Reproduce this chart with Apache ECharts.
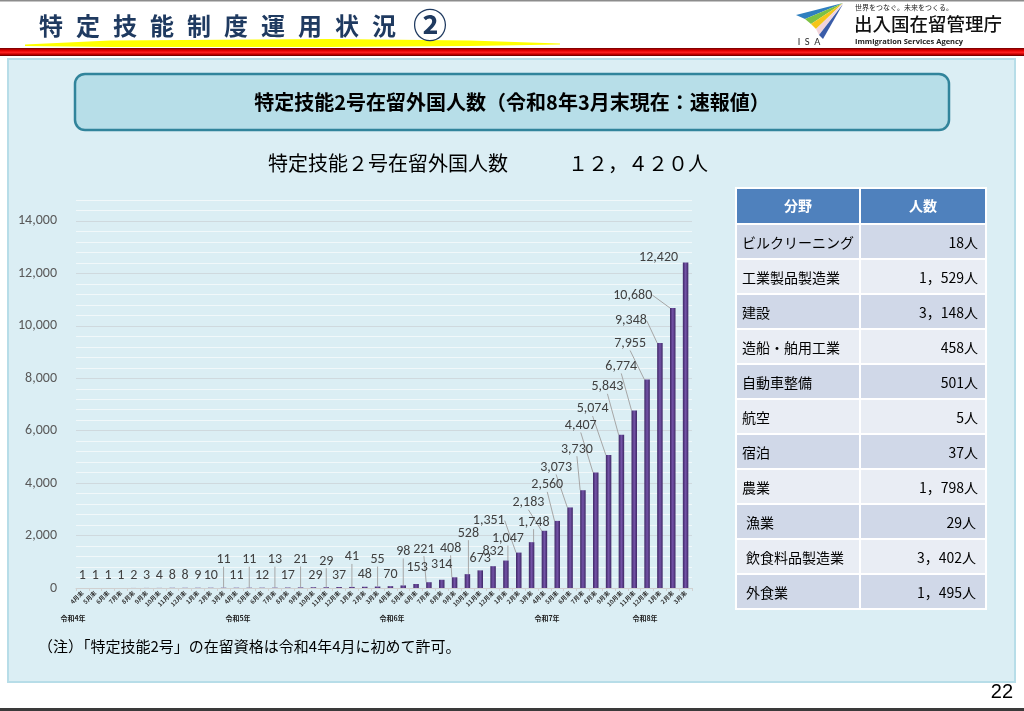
<!DOCTYPE html>
<html>
<head>
<meta charset="utf-8">
<script src="https://cdn.jsdelivr.net/npm/echarts@6/dist/echarts.min.js"></script>
<style>
  html, body { margin: 0; padding: 0; background: #fff; }
  #chart { width: 1024px; height: 711px; }
</style>
</head>
<body>
<div id="chart"></div>
<script>
// 月末ごとの特定技能2号在留外国人数（令和4年4月末〜令和8年3月末）
var monthLabels = [
  '4月末','5月末','6月末','7月末','8月末','9月末','10月末','11月末','12月末',
  '1月末','2月末','3月末','4月末','5月末','6月末','7月末','8月末','9月末','10月末','11月末','12月末',
  '1月末','2月末','3月末','4月末','5月末','6月末','7月末','8月末','9月末','10月末','11月末','12月末',
  '1月末','2月末','3月末','4月末','5月末','6月末','7月末','8月末','9月末','10月末','11月末','12月末',
  '1月末','2月末','3月末'
];
var residents = [
  1, 1, 1, 1, 2, 3, 4, 8, 8,
  9, 10, 11, 11, 11, 12, 13, 17, 21, 29, 29, 37,
  41, 48, 55, 70, 98, 153, 221, 314, 408, 528, 673, 832,
  1047, 1351, 1748, 2183, 2560, 3073, 3730, 4407, 5074, 5843, 6774, 7955,
  9348, 10680, 12420
];
var yearNames = ['令和4年', '令和5年', '令和6年', '令和7年', '令和8年'];
var yTicks = [0, 2000, 4000, 6000, 8000, 10000, 12000, 14000];

// 分野別内訳
var fieldNames = ['ビルクリーニング', '工業製品製造業', '建設', '造船・舶用工業', '自動車整備',
  '航空', '宿泊', '農業', '漁業', '飲食料品製造業', '外食業'];
var fieldCounts = [18, 1529, 3148, 458, 501, 5, 37, 1798, 29, 3402, 1495];

// ラベルのずらし量 [dx, dy, 引き出し線]
var labelNudge = [
  [0,0,0],[0,0,0],[0,0,0],[0,0,0],[0,0,0],[0,0,0],[0,0,0],[0,0,0],[0,0,0],[0,0,0],[0,0,0],
  [0,-16,1],[0,0,0],[0,-16,1],[0,0,0],[0,-16,1],[0,0,0],[0,-16,1],[2,0,0],[0,-14,1],[0,0,0],
  [0,-18,1],[0,0,0],[0,-15,1],[0,0,0],[0,-22,1],[1,-4,0],[-5,-21,1],[0,-3,0],[-4,-17,1],[1,-29,1],
  [0,0,0],[0,-3,0],[2,-10,1],[-30,-20,1],[2,-8,1],[-16,-16,1],[-10,-24,1],[-14,-28,1],[-6,-29,1],
  [-15,-35,1],[-16,-34,1],[-14,-36,1],[-13,-32,1],[-17,-24,1],[-29,-10,1],[-40,-1,1],[-27,7,0]
];
var yearLabelX = [73, 238, 392, 547, 645];

var CJK = '"Noto Sans CJK JP"';
var NUM = 'Carlito, Lato, sans-serif';

function fmt(v) { return v.toLocaleString('en-US'); }
function fmtJa(v) { return fmt(v).replace(/,/g, '，') + '人'; }

function txt(x, y, s, font, fill, align, valign, z) {
  return {
    type: 'text', z: z || 5, silent: true,
    style: {
      text: s, x: x, y: y, font: font, fill: fill || '#000',
      align: align || 'left', verticalAlign: valign || 'middle',
      textAlign: align || 'left', textVerticalAlign: valign || 'middle'
    }
  };
}

var gfx = [];
// ページ枠
gfx.push({ type: 'rect', z: -20, shape: { x: 0, y: 0, width: 1024, height: 1.5 }, style: { fill: '#8c8c8c' } });
gfx.push({ type: 'polygon', z: -20,
  shape: { points: [[25,44.5],[110,40.5],[330,39],[470,40.5],[560,43.5],[560,44.5],[470,46],[330,47],[110,47],[25,46]] },
  style: { fill: '#ffff00' } });
gfx.push({ type: 'rect', z: -20, shape: { x: 0, y: 48, width: 1024, height: 8 },
  style: { fill: new echarts.graphic.LinearGradient(0, 0, 0, 1, [
    { offset: 0, color: '#6e0000' }, { offset: 0.3, color: '#e00000' }, { offset: 0.55, color: '#ff2020' },
    { offset: 0.8, color: '#c00000' }, { offset: 1, color: '#5a0000' }]) } });
gfx.push({ type: 'rect', z: -20, shape: { x: 0, y: 708, width: 1024, height: 3 }, style: { fill: '#3a3a3a' } });

// タイトル（字間を広げて1文字ずつ）
var titleChars = '特定技能制度運用状況'.split('');
titleChars.forEach(function (c, i) {
  gfx.push(txt(39 + i * 37, 26, c, 'bold 24px ' + CJK, '#1f3a60', 'left', 'middle'));
});
gfx.push(txt(430, 25, '②', 'bold 34px ' + CJK, '#1f3a60', 'center', 'middle'));

// ロゴ
var wedges = [
  ['#2f7fbf', [[843,3],[796,15],[805,19]]],
  ['#7dc242', [[843,3],[805,19],[811,24]]],
  ['#f5c518', [[843,3],[811,24],[816,29]]],
  ['#f1d3da', [[843,3],[816,29],[819,35]]],
  ['#3a5ca8', [[843,4],[819,35],[823,39]]]
];
wedges.forEach(function (w) {
  gfx.push({ type: 'polygon', z: 5, shape: { points: w[1] }, style: { fill: w[0] } });
});
gfx.push(txt(809, 42, 'I  S  A', '9px Lato', '#222', 'center', 'middle'));
gfx.push(txt(855, 7, '世界をつなぐ。未来をつくる。', '7px ' + CJK, '#222'));
gfx.push(txt(854, 24, '出入国在留管理庁', '500 18.5px ' + CJK, '#111'));
gfx.push(txt(855, 42, 'Immigration Services Agency', 'bold 7.5px "Open Sans"', '#222'));
gfx.push(txt(1013, 692, '22', '20px "Liberation Sans"', '#000', 'right', 'middle'));

// 水色パネル
gfx.push({ type: 'rect', z: -10, shape: { x: 8, y: 59, width: 1007, height: 623 },
  style: { fill: '#dbeef4', stroke: '#b7dde8', lineWidth: 2 } });
gfx.push({ type: 'rect', z: -5, shape: { x: 75, y: 74, width: 874, height: 56, r: 10 },
  style: { fill: '#b7dee8', stroke: '#31849b', lineWidth: 2.5 } });
gfx.push(txt(512, 102, '特定技能2号在留外国人数（令和8年3月末現在：速報値）', 'bold 20px ' + CJK, '#000', 'center'));
gfx.push(txt(488, 163, '特定技能２号在留外国人数　　　１２，４２０人', '20px ' + CJK, '#000', 'center'));
gfx.push(txt(38, 646, '（注）「特定技能2号」の在留資格は令和4年4月に初めて許可。', '15px ' + CJK, '#000'));

// 年ラベル
yearNames.forEach(function (n, i) {
  gfx.push(txt(yearLabelX[i], 618, n, 'bold 7px ' + CJK, '#222', 'center'));
});

// 分野別の表
var tX = 737, c1 = 122, c2 = 124, gap = 2, hdrY = 189, hdrH = 34, rowY = 225, rowH = 33;
gfx.push({ type: 'rect', z: -4, shape: { x: tX - 2, y: hdrY - 2, width: c1 + c2 + gap + 4, height: rowY + fieldNames.length * (rowH + gap) - hdrY + 2 },
  style: { fill: '#ffffff' } });
gfx.push({ type: 'rect', z: -3, shape: { x: tX, y: hdrY, width: c1, height: hdrH }, style: { fill: '#4f81bd' } });
gfx.push({ type: 'rect', z: -3, shape: { x: tX + c1 + gap, y: hdrY, width: c2, height: hdrH }, style: { fill: '#4f81bd' } });
gfx.push(txt(tX + c1 / 2, hdrY + hdrH / 2, '分野', 'bold 14px ' + CJK, '#fff', 'center'));
gfx.push(txt(tX + c1 + gap + c2 / 2, hdrY + hdrH / 2, '人数', 'bold 14px ' + CJK, '#fff', 'center'));
fieldNames.forEach(function (name, i) {
  var y = rowY + i * (rowH + gap);
  var fill = i % 2 === 0 ? '#d0d8e8' : '#e9edf4';
  gfx.push({ type: 'rect', z: -3, shape: { x: tX, y: y, width: c1, height: rowH }, style: { fill: fill } });
  gfx.push({ type: 'rect', z: -3, shape: { x: tX + c1 + gap, y: y, width: c2, height: rowH }, style: { fill: fill } });
  var indent = i >= 8 ? 4 : 0;
  gfx.push(txt(tX + 5 + indent, y + rowH / 2 + 1, name, '14px ' + CJK, '#000'));
  gfx.push(txt(tX + c1 + gap + c2 - 7 - indent / 2, y + rowH / 2 + 1, fmtJa(fieldCounts[i]), '14px ' + CJK, '#000', 'right'));
});

var splitColors = ['#cfd9de', '#f1f8fa', '#f1f8fa', '#f1f8fa', '#f1f8fa'];

var option = {
  backgroundColor: '#ffffff',
  animation: false,
  textStyle: { fontFamily: CJK },
  grid: { left: 76, right: 332, top: 200, bottom: 123, containLabel: false },
  xAxis: {
    type: 'category',
    data: monthLabels,
    axisLine: { lineStyle: { color: '#d0d0d0' } },
    axisTick: { show: true, length: 3, lineStyle: { color: '#d0d0d0' } },
    axisLabel: { interval: 0, rotate: 45, fontSize: 6, fontWeight: 'bold', color: '#333', margin: 4, fontFamily: CJK }
  },
  yAxis: {
    type: 'value',
    min: 0, max: 14800, interval: 400,
    axisLine: { show: false },
    axisTick: { show: false },
    axisLabel: {
      color: '#595959', fontSize: 14, fontFamily: NUM, margin: 19,
      formatter: function (v) { return yTicks.indexOf(v) >= 0 ? fmt(v) : ''; }
    },
    splitLine: { show: true, lineStyle: { color: splitColors, width: 1 } }
  },
  series: [{
    type: 'bar',
    barWidth: 5.5,
    data: residents.map(function (v, i) {
      return { value: v, labelLine: { show: !!labelNudge[i][2] } };
    }),
    itemStyle: {
      color: new echarts.graphic.LinearGradient(0, 0, 1, 0, [
        { offset: 0, color: '#3e2765' }, { offset: 0.5, color: '#7453a8' }, { offset: 1, color: '#3e2765' }])
    },
    label: {
      show: true, position: 'top', distance: 5,
      fontSize: 14, fontFamily: NUM, color: '#404040',
      formatter: function (p) { return fmt(p.value); }
    },
    labelLine: { show: true, lineStyle: { color: '#a6a6a6', width: 1 } },
    labelLayout: function (p) {
      var n = labelNudge[p.dataIndex];
      return {
        x: p.rect.x + p.rect.width / 2 + n[0],
        y: p.rect.y - 5 + n[1],
        align: 'center', verticalAlign: 'bottom'
      };
    }
  }],
  graphic: { elements: gfx }
};

var chart = echarts.init(document.getElementById('chart'), null, { renderer: 'canvas' });
chart.setOption(option);
</script>
</body>
</html>
